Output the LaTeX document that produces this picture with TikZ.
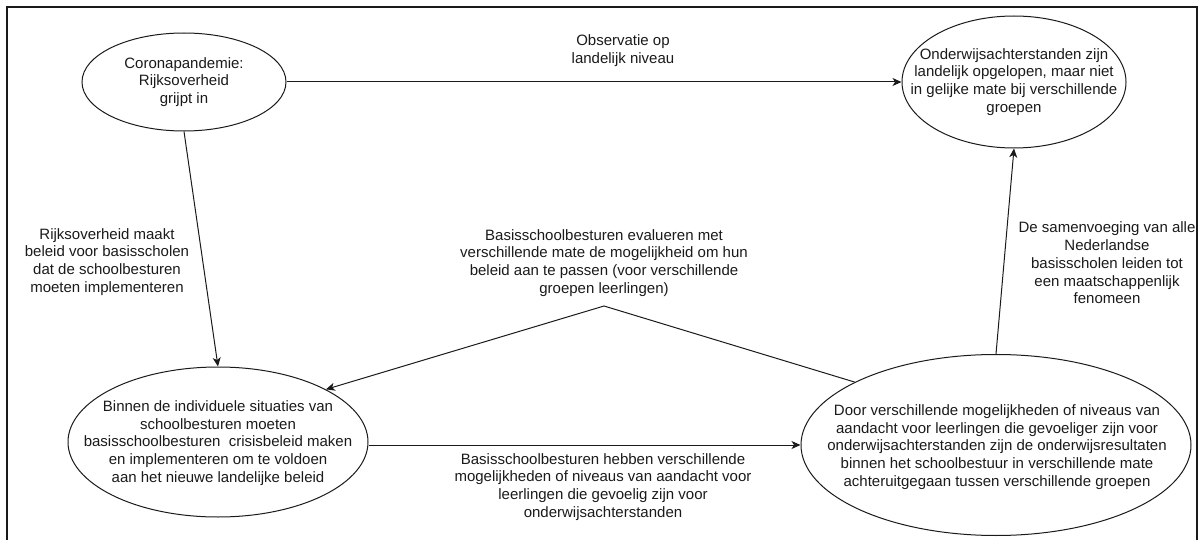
\documentclass[tikz,border=0pt]{standalone}
\usepackage{fontspec}
\setmainfont{Liberation Sans}
\usetikzlibrary{arrows.meta,shapes.geometric}
\definecolor{ink}{HTML}{1A1A1A}
\tikzset{
  ell/.style={draw=ink, line width=1pt, ellipse, inner sep=0pt},
  txt/.style={align=center, text=ink, inner sep=0pt, font=\fontsize{15}{17.8}\selectfont},
  conn/.style={draw=ink, line width=1pt, -{Stealth[length=9pt,width=8pt,inset=2.5pt]}},
  frame/.style={draw=ink, line width=1.3pt}
}
\begin{document}
\begin{tikzpicture}[x=1pt,y=-1pt]
\useasboundingbox (0,0) rectangle (1200,540);
\draw[frame] (7,545) -- (7,7) -- (1197,7) -- (1197,545);

\node[ell, minimum width=204pt, minimum height=98pt] (e1) at (184,82) {};
\node[txt] (t1) at (e1.center) {Coronapandemie:\\Rijksoverheid\\grijpt in};

\node[ell, minimum width=224pt, minimum height=132pt] (e2) at (1014,82) {};
\node[txt] (t2) at (e2.center) {Onderwijsachterstanden zijn\\landelijk opgelopen, maar niet\\in gelijke mate bij verschillende\\groepen};

\node[ell, minimum width=300pt, minimum height=150pt] (e3) at (218,442) {};
\node[txt] (t3) at (218,443) {Binnen de individuele situaties van\\schoolbesturen moeten\\basisschoolbesturen~ crisisbeleid maken\\en implementeren om te voldoen\\aan het nieuwe landelijke beleid};

\node[ell, minimum width=390pt, minimum height=181pt] (e4) at (996,445) {};
\node[txt] (t4) at (997,447) {Door verschillende mogelijkheden of niveaus van\\aandacht voor leerlingen die gevoeliger zijn voor\\onderwijsachterstanden zijn de onderwijsresultaten\\binnen het schoolbestuur in verschillende mate\\achteruitgegaan tussen verschillende groepen};

\coordinate (peak) at (604,306);

\draw[conn] (e1.east) -- (e2.west);
\draw[conn] (e1.south) -- (e3.north);
\draw[conn] (e4.north) -- (e2.south);
\draw[conn] (e3.east |- 0,445) -- (e4.west);
\draw[conn] (e4.156) -- (peak) -- (e3.26);

\node[txt] (l1) at (623,51) {Observatie op\\landelijk niveau};
\node[txt] (l2) at (107,262) {Rijksoverheid maakt\\beleid voor basisscholen\\dat de schoolbesturen\\moeten implementeren};
\node[txt] (l3) at (604,263) {Basisschoolbesturen evalueren met\\verschillende mate de mogelijkheid om hun\\beleid aan te passen (voor verschillende\\groepen leerlingen)};
\node[txt] (l4) at (603,487) {Basisschoolbesturen hebben verschillende\\mogelijkheden of niveaus van aandacht voor\\leerlingen die gevoelig zijn voor\\onderwijsachterstanden};
\node[txt] (l5) at (1107,263) {De samenvoeging van alle\\Nederlandse\\basisscholen leiden tot\\een maatschappenlijk\\fenomeen};
\end{tikzpicture}
\end{document}
